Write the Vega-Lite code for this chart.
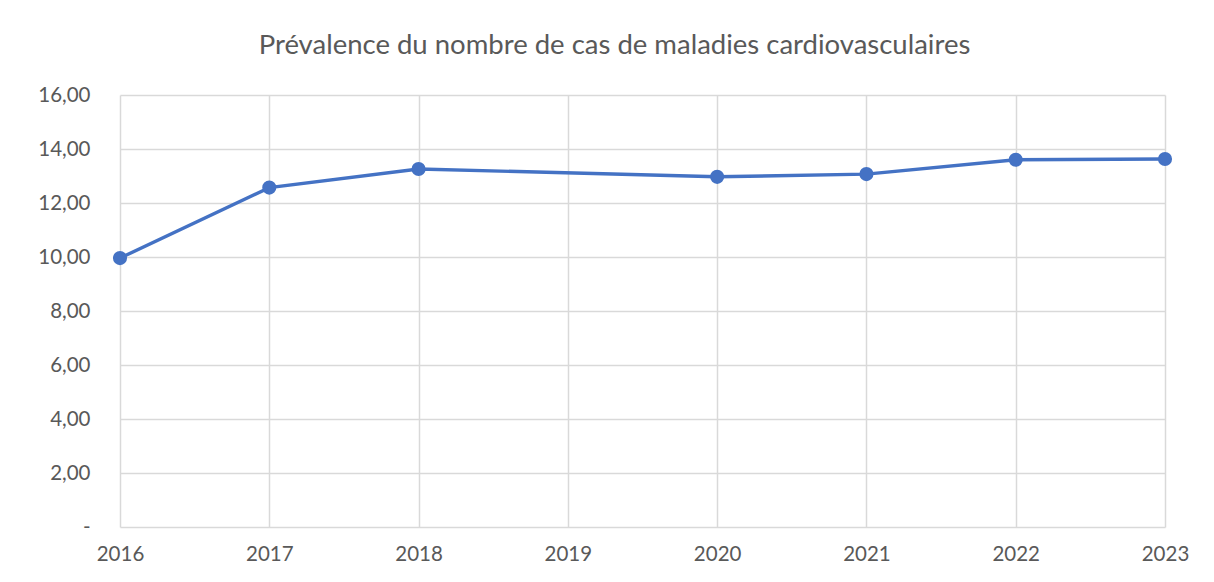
{
  "$schema": "https://vega.github.io/schema/vega-lite/v6.json",
  "width": 1045,
  "height": 432,
  "autosize": {"type": "none"},
  "padding": {"left": 120, "top": 95, "right": 49, "bottom": 55},
  "background": "white",
  "title": {
    "text": "Prévalence du nombre de cas de maladies cardiovasculaires",
    "font": "Lato",
    "fontSize": 27.5,
    "fontWeight": "normal",
    "color": "#595959",
    "anchor": "middle",
    "offset": 26,
    "dx": -28
  },
  "config": {
    "view": {"stroke": null},
    "axis": {
      "labelFont": "Lato",
      "labelFontSize": 20.5,
      "labelColor": "#595959",
      "gridColor": "#d9d9d9",
      "gridWidth": 1.5,
      "domain": false,
      "ticks": false,
      "title": null,
      "labelFlush": false
    }
  },
  "data": {
    "values": [
      {"annee": 2016, "valeur": 9.96},
      {"annee": 2017, "valeur": 12.57},
      {"annee": 2018, "valeur": 13.26},
      {"annee": 2020, "valeur": 12.97},
      {"annee": 2021, "valeur": 13.07},
      {"annee": 2022, "valeur": 13.6},
      {"annee": 2023, "valeur": 13.63}
    ]
  },
  "encoding": {
    "x": {
      "field": "annee",
      "type": "quantitative",
      "scale": {"domain": [2016, 2023], "nice": false, "zero": false},
      "axis": {
        "values": [2016, 2017, 2018, 2019, 2020, 2021, 2022, 2023],
        "format": "d",
        "labelPadding": 17,
        "grid": true
      }
    },
    "y": {
      "field": "valeur",
      "type": "quantitative",
      "scale": {"domain": [0, 16], "nice": false},
      "axis": {
        "values": [0, 2, 4, 6, 8, 10, 12, 14, 16],
        "labelExpr": "datum.value == 0 ? '-' : replace(format(datum.value, '.2f'), '.', ',')",
        "labelPadding": 30,
        "grid": true
      }
    }
  },
  "layer": [
    {
      "mark": {"type": "line", "color": "#4472C4", "strokeWidth": 3.4}
    },
    {
      "mark": {"type": "point", "filled": true, "opacity": 1, "color": "#4472C4", "size": 200}
    }
  ]
}
